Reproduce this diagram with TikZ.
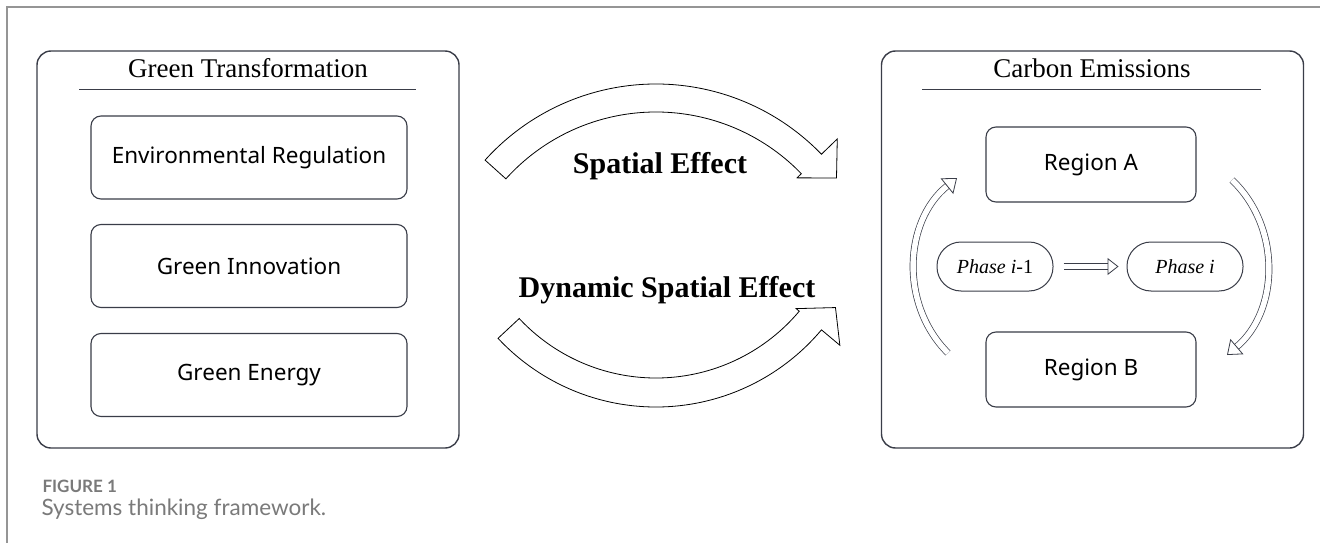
\documentclass[tikz,border=0pt]{standalone}
\usepackage{fontspec}
\setmainfont{Liberation Serif}
\newfontfamily\boxfont{Noto Sans}
\newfontfamily\capfont{Lato}
\usetikzlibrary{arrows.meta}
\definecolor{frameline}{HTML}{3A3D48}
\definecolor{capgray}{HTML}{7A7A7A}
\tikzset{bigbox/.style={draw=frameline, line width=1.4pt, rounded corners=14pt, minimum width=422pt, minimum height=397pt}}
\tikzset{itembox/.style={draw=frameline, line width=1.1pt, rounded corners=10pt, minimum width=316pt, minimum height=83pt, font=\boxfont\fontsize{22.5}{26}\selectfont}}
\tikzset{regionbox/.style={itembox, minimum width=210pt, minimum height=75pt}}
\tikzset{phasebox/.style={draw=frameline, line width=1pt, rounded corners=24pt, minimum width=116pt, minimum height=49pt, font=\fontsize{20}{24}\selectfont}}
\tikzset{titletext/.style={font=\fontsize{27}{30}\selectfont}}
\tikzset{effect/.style={font=\bfseries\fontsize{30}{34}\selectfont}}
\tikzset{blockarrow/.style={draw=black, line width=.8pt, fill=white}}
\tikzset{ringarrow/.style={draw=frameline, double=white, double distance=5.5pt, line width=.7pt, -{Triangle[open, length=13pt, width=20pt, line width=.8pt]}}}

\begin{document}
\begin{tikzpicture}[x=1pt,y=1pt]
        \useasboundingbox (0,0) rectangle (1320,-543);
        \fill[white] (0,0) rectangle (1320,-543);
        \draw[capgray!80, line width=1.5pt] (1320,-7) -- (7,-7) -- (7,-543);

        % left panel
        \node[bigbox] (gt) at (248,-249.5) {};
        \node[titletext] (gttitle) at (248,-68) {Green Transformation};
        \draw[frameline, line width=1pt] (79,-89) -- (416,-89);
        \node[itembox] (er) at (249,-157.5) {Environmental Regulation};
        \node[itembox] (gi) at (249,-266) {Green Innovation};
        \node[itembox] (ge) at (249,-375) {Green Energy};

        % right panel
        \node[bigbox] (ce) at (1092.5,-249.5) {};
        \node[titletext] (cetitle) at (1092,-68) {Carbon Emissions};
        \draw[frameline, line width=1pt] (922,-89) -- (1261,-89);
        \node[regionbox] (ra) at (1091,-164.5) {Region A};
        \node[regionbox] (rb) at (1091,-369.5) {Region B};
        \node[phasebox] (p0) at (995,-266.5) {\itshape Phase i\upshape-1};
        \node[phasebox] (p1) at (1185,-266.5) {\itshape Phase i};
        \draw[ringarrow, -{Triangle[open, length=11pt, width=17pt, line width=.8pt]}, shorten <=10pt, shorten >=8pt] (p0) -- (p1);

        \coordinate (l0) at (948,-353);
        \coordinate (l1) at (957,-178);
        \coordinate (r0) at (1232,-180);
        \coordinate (r1) at (1227,-355);
        \draw[ringarrow] (l0) to[bend left=48] (l1);
        \draw[ringarrow] (r0) to[bend left=48] (r1);

        % effects between the panels
        \begin{scope}[shift={(656,-314)}]
            \draw[blockarrow] (138:230) arc[start angle=138, end angle=44, radius=230]
                -- (44:252) -- (37:226) -- (44:196) -- (44:202)
                arc[start angle=44, end angle=138, radius=202] -- cycle;
        \end{scope}
        \begin{scope}[shift={(656,-191)}]
            \draw[blockarrow] (-137:216) arc[start angle=-137, end angle=-40, radius=216]
                -- (-40:240) -- (-33:214) -- (-40:183) -- (-40:187)
                arc[start angle=-40, end angle=-137, radius=187] -- cycle;
        \end{scope}
        \node[effect] (se) at (660,-166) {Spatial Effect};
        \node[effect] (dse) at (667,-290) {Dynamic Spatial Effect};

        \node[anchor=west, text=capgray, font=\capfont\bfseries\fontsize{17}{20}\selectfont] (fig) at (39,-486) {FIGURE 1};
        \node[anchor=west, text=capgray, font=\capfont\fontsize{22.5}{26}\selectfont] (cap) at (38,-509) {Systems thinking framework.};
\end{tikzpicture}
\end{document}
